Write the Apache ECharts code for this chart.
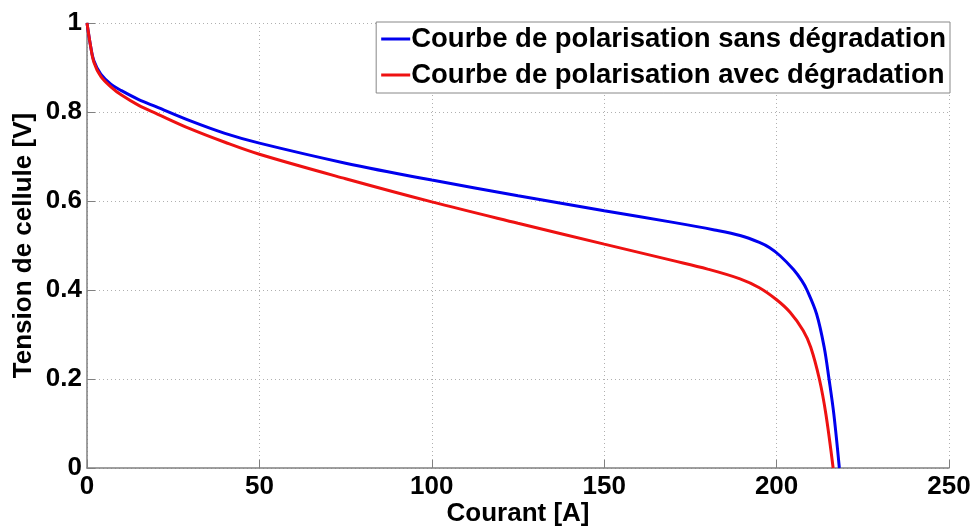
<!DOCTYPE html>
<html>
<head>
<meta charset="utf-8">
<script src="https://cdn.jsdelivr.net/npm/echarts@6/dist/echarts.min.js"></script>
<style>
  html, body { margin: 0; padding: 0; background: #fff; }
  #chart { width: 974px; height: 526px; }
</style>
</head>
<body>
<div id="chart"></div>
<script>
// Polarisation curves: cell voltage vs. current
const seriesNames = [
  'Courbe de polarisation sans dégradation',
  'Courbe de polarisation avec dégradation'
];

// Without degradation: current [A] and voltage [V]
const currentSans = [0, 1, 2, 4, 7, 10, 15, 20, 30, 40, 50, 75, 100, 125, 150, 170, 182, 189.4, 195, 198, 201, 204.9, 207.3, 208.8, 211.6, 213.8, 215.2, 216.6, 218.2];
const voltageSans = [1.0, 0.95, 0.915, 0.885, 0.862, 0.848, 0.828, 0.812, 0.78, 0.752, 0.73, 0.685, 0.647, 0.612, 0.578, 0.552, 0.535, 0.5225, 0.507, 0.495, 0.477, 0.446, 0.421, 0.4, 0.346, 0.2715, 0.2, 0.121, 0];

// With degradation
const currentAvec = [0, 1, 2, 4, 7, 10, 15, 20, 30, 40, 50, 75, 100, 125, 150, 170, 180, 189.4, 195, 200, 203.9, 207.7, 209.9, 212.4, 214.3, 216.4];
const voltageAvec = [1.0, 0.95, 0.912, 0.88, 0.856, 0.838, 0.815, 0.797, 0.762, 0.732, 0.705, 0.65, 0.598, 0.55, 0.503, 0.466, 0.447, 0.425, 0.405, 0.378, 0.35, 0.309, 0.2715, 0.2, 0.121, 0];

const xTicks = [0, 50, 100, 150, 200, 250];
const yTicks = [0, 0.2, 0.4, 0.6, 0.8, 1];

const pairs = (xs, ys) => xs.map((x, i) => [x, ys[i]]);

const font = '"Liberation Sans", Arial, sans-serif';
const axisGray = '#808080';
const gridLine = { show: true, lineStyle: { color: '#b0b0b0', type: [1, 3], width: 1 } };

const chart = echarts.init(document.getElementById('chart'));
chart.setOption({
  backgroundColor: '#fff',
  animation: false,
  grid: { left: 87, right: 25, top: 23, bottom: 58, containLabel: false, outerBoundsMode: 'none' },
  legend: {
    right: 24,
    top: 22,
    orient: 'vertical',
    backgroundColor: '#fff',
    borderColor: '#888',
    borderWidth: 1,
    borderRadius: 0,
    padding: [3, 4, 4, 5],
    itemGap: 8,
    itemWidth: 29,
    itemHeight: 3,
    icon: 'rect',
    textStyle: { fontFamily: font, fontWeight: 'bold', fontSize: 27.5, color: '#000', padding: [0, 0, 0, -4] },
    data: seriesNames
  },
  xAxis: {
    type: 'value',
    min: xTicks[0],
    max: xTicks[xTicks.length - 1],
    interval: 50,
    name: 'Courant [A]',
    nameLocation: 'middle',
    nameGap: 33,
    nameMoveOverlap: false,
    nameTextStyle: { fontFamily: font, fontWeight: 'bold', fontSize: 26, color: '#000' },
    axisLine: { lineStyle: { color: axisGray, width: 1.5 } },
    axisTick: { inside: true, length: 8, lineStyle: { color: axisGray } },
    axisLabel: { fontFamily: font, fontWeight: 'bold', fontSize: 26, color: '#000', margin: 6 },
    splitLine: gridLine
  },
  yAxis: {
    type: 'value',
    min: yTicks[0],
    max: yTicks[yTicks.length - 1],
    interval: 0.2,
    name: 'Tension de cellule [V]',
    nameLocation: 'middle',
    nameGap: 50,
    nameMoveOverlap: false,
    nameTextStyle: { fontFamily: font, fontWeight: 'bold', fontSize: 26, color: '#000' },
    axisLine: { show: true, lineStyle: { color: axisGray, width: 1.5 } },
    axisTick: { show: true, inside: true, length: 8, lineStyle: { color: axisGray } },
    axisLabel: {
      fontFamily: font, fontWeight: 'bold', fontSize: 26, color: '#000', margin: 5,
      formatter: v => String(+v.toFixed(1))
    },
    splitLine: gridLine
  },
  series: [
    {
      name: seriesNames[0],
      type: 'line',
      data: pairs(currentSans, voltageSans),
      smooth: 0.35,
      symbol: 'none',
      itemStyle: { color: '#0000ee' },
      lineStyle: { color: '#0000ee', width: 3 }
    },
    {
      name: seriesNames[1],
      type: 'line',
      data: pairs(currentAvec, voltageAvec),
      smooth: 0.35,
      symbol: 'none',
      itemStyle: { color: '#ee1111' },
      lineStyle: { color: '#ee1111', width: 3 }
    }
  ]
});
</script>
</body>
</html>
